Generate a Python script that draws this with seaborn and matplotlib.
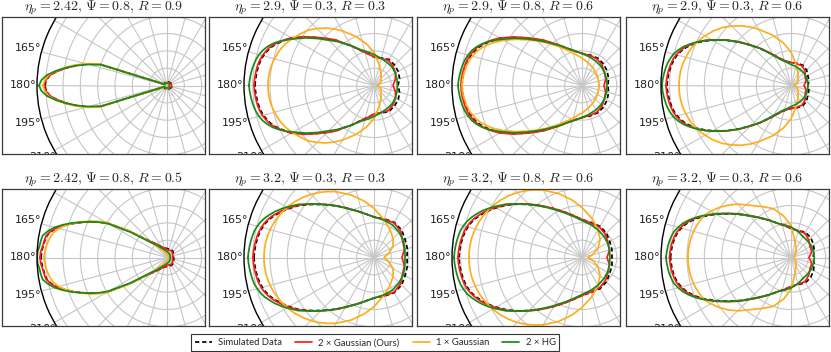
import numpy as np
import matplotlib
matplotlib.use("Agg")
import matplotlib.pyplot as plt
from matplotlib import font_manager
from matplotlib.lines import Line2D
from matplotlib.transforms import Bbox, TransformedBbox
import seaborn as sns

# ---------------------------------------------------------------
# data: radial value of each curve sampled on the upper half of the
# polar plot (deg, from the forward tip at 180 round to 0).
# The lower half is the mirror image.
# ---------------------------------------------------------------
THETA = [180, 177.5, 175, 172.5, 170, 167.5, 165, 162.5, 160, 157.5, 155, 152.5, 150,
         145, 140, 135, 130, 125, 120, 110, 100, 90, 75, 60, 45, 30, 15, 0]

TITLES = [
    r"$\eta_p = 2.42,\, \Psi = 0.8,\, R = 0.9$",
    r"$\eta_p = 2.9,\, \Psi = 0.3,\, R = 0.3$",
    r"$\eta_p = 2.9,\, \Psi = 0.8,\, R = 0.6$",
    r"$\eta_p = 2.9,\, \Psi = 0.3,\, R = 0.6$",
    r"$\eta_p = 2.42,\, \Psi = 0.8,\, R = 0.5$",
    r"$\eta_p = 3.2,\, \Psi = 0.3,\, R = 0.3$",
    r"$\eta_p = 3.2,\, \Psi = 0.8,\, R = 0.6$",
    r"$\eta_p = 3.2,\, \Psi = 0.3,\, R = 0.6$",
]

SIMULATED = [
    [122, 121, 117.5, 110.5, 102, 93, 82.5, 70.5, 10, 4, 3.5, 3.5, 3.5, 3.5, 3.5, 3.5, 3.5, 3.5, 3.5, 3.5, 3.5, 3.5, 3.5, 4, 4, 4.5, 5, 5],
    [119, 118.7, 118.2, 117.7, 117, 116, 114.6, 112.5, 110.2, 107, 103, 99, 95, 84.5, 74.5, 66, 59, 51, 46, 37, 32, 28.5, 28.5, 30, 29, 28, 26.5, 24],
    [120, 119.7, 119.2, 118.6, 117.8, 116.7, 115.2, 113, 110.5, 107, 103, 98.5, 94, 84, 74, 65.5, 58.5, 51.5, 46.5, 39, 34.5, 32, 31.5, 31.5, 30.5, 29, 27.5, 26],
    [124, 123.6, 123, 122.2, 121.2, 119.7, 117.8, 115, 111.5, 107, 102, 96.5, 90.5, 79, 67.5, 57, 48.5, 41, 35.5, 28, 24.5, 23, 23, 23.5, 22, 19.5, 18.5, 17],
    [126, 125.5, 124.5, 123.5, 122.5, 119, 114, 107, 99.5, 92, 84.5, 77, 68.5, 45.5, 29, 22, 18, 15, 13, 10.5, 9.5, 9, 8.5, 9, 8.5, 7.5, 7, 6.5],
    [120, 119.7, 119.2, 118.6, 117.9, 117, 115.6, 113.8, 111.5, 108.5, 105, 101.5, 98, 91, 82.5, 75, 68.5, 62.5, 57.5, 49.5, 44, 40.5, 40, 40.5, 39, 36, 34.5, 33],
    [123, 122.7, 122.2, 121.5, 120.7, 119.6, 118.2, 116.2, 113.5, 110.3, 107, 103.2, 99.3, 91.5, 83, 75, 68, 61.5, 56.5, 48, 42, 38, 36, 36, 34.5, 32, 31, 30],
    [120.5, 120, 119.5, 118.7, 117.6, 116, 113.5, 110.5, 106.5, 102, 97, 91.5, 86.5, 76, 67, 59, 52.5, 47, 43, 36, 32, 29, 28, 29, 28, 26, 24, 22],
]
GAUSS2 = [
    [123, 121.5, 117.5, 110.5, 102, 93, 82.5, 70.5, 10, 4, 3, 3, 3, 3, 3, 3, 3, 3, 3, 3, 3, 3, 3, 3.5, 3.5, 4, 4.5, 4.5],
    [120, 119.7, 119.2, 118.7, 118, 117, 115.6, 113.5, 111.2, 107.8, 103.7, 99.5, 95.5, 85, 75, 66.5, 59.5, 51.3, 46, 37, 32, 28.5, 28, 29, 27, 25, 22, 19],
    [121, 120.7, 120.2, 119.6, 118.8, 117.7, 116.2, 114, 111.5, 108, 104, 99.5, 95, 84.5, 74.5, 66, 59, 52, 47, 39, 34.5, 32, 31, 30.5, 28.5, 26, 24.5, 22],
    [125, 124.6, 124, 123.2, 122.2, 120.7, 118.8, 116, 112.5, 108, 103, 97.5, 91.5, 79.5, 68, 57.5, 49, 41.5, 35.5, 28, 24.5, 23, 22.5, 22.5, 20, 16.5, 15.5, 13],
    [127, 126.5, 125, 124, 123, 119.5, 114.5, 107.5, 100, 92, 84.5, 77, 68.5, 45.5, 29, 22, 18, 15, 13, 10.5, 9, 8, 7.5, 8, 7.5, 6.5, 6, 5.5],
    [121, 120.7, 120.2, 119.6, 118.9, 118, 116.6, 114.8, 112.5, 109.5, 106, 102.5, 98.8, 91.5, 83, 75.5, 68.8, 63, 57.5, 49.5, 44, 40.5, 39.5, 40, 37.5, 33, 31.5, 28],
    [124, 123.7, 123.2, 122.5, 121.7, 120.6, 119.2, 117.2, 114.5, 111.3, 107.8, 104, 100, 92, 83.5, 75.5, 68.5, 62, 56.5, 48, 42, 38, 35.5, 35, 33, 30, 28.5, 25],
    [121.5, 121, 120.5, 119.7, 118.6, 117, 114.5, 111.5, 107.5, 103, 98, 92.5, 87.5, 77, 68, 59.5, 53, 47.5, 43, 36, 32, 29, 27.5, 28, 25, 22, 21.5, 18],
]
GAUSS1 = [
    [124, 122.5, 119, 112, 103.5, 94.5, 84, 72, 12, 3, 2.5, 2.5, 2.5, 2.5, 2.5, 2.5, 2.5, 2.5, 2.5, 2.5, 2.5, 2.5, 2.5, 2, 2, 2, 2, 2],
    [106, 105.9, 105.7, 105.3, 104.8, 104, 103, 102, 101, 99.5, 98, 96, 94, 90, 86, 80.5, 75, 69, 63, 52, 42, 33, 21, 14, 10, 8, 6, 3],
    [120, 119.7, 119, 118, 117, 115.5, 113.5, 111, 108, 104, 100, 95, 90.5, 80.5, 71, 63, 56, 49.5, 44.5, 36.5, 31, 27.5, 23.5, 21, 19, 18, 17, 17],
    [112, 111.9, 111.7, 111.3, 110.7, 109.9, 108.8, 107.8, 106.7, 105.1, 103.5, 101.4, 99.3, 95, 90, 84, 78, 71.5, 65, 53.5, 43, 33.5, 21, 14, 10, 8, 6, 3],
    [123, 122.5, 121.5, 120, 118.5, 116, 112, 106.5, 100, 93, 86, 78.5, 70.5, 47, 28, 19, 14, 10, 8, 5, 4, 3, 2.5, 2, 2, 2, 2, 2],
    [110, 110, 109.8, 109.4, 109, 108.3, 107.5, 106.6, 105.6, 104.3, 103, 101.7, 100.3, 97, 93.3, 89.3, 85, 80.5, 76, 66.5, 57.4, 49.2, 39, 32, 27, 22, 15, 10],
    [113, 113, 112.8, 112.4, 112, 111.3, 110.5, 109.6, 108.6, 107.3, 106, 104.6, 103.2, 99.8, 96, 91.8, 87.3, 82.5, 77.8, 68, 58.5, 50, 40, 32, 25.5, 18.5, 11, 6],
    [103, 103, 102.8, 102.5, 102, 101.5, 100.8, 100, 99, 98, 97, 95, 92.5, 87.4, 81.5, 75.5, 68.5, 63, 59, 52, 42, 32, 16, 10, 7, 4.5, 3.5, 3],
]
HG2 = [
    [128, 125.7, 120.5, 112, 102.5, 92.2, 81.5, 69, 8, 3, 2.5, 2.5, 2.5, 2.5, 2.5, 2.5, 2.5, 2.5, 2.5, 2.5, 2.5, 2.5, 2.5, 2.5, 2.5, 2.5, 2.5, 2.5],
    [125, 124.5, 123.8, 123, 122, 120.8, 119.1, 116.7, 113.5, 109.5, 104.5, 99, 93.2, 83, 73, 64, 57.5, 51, 46, 38, 34, 31, 28, 26.5, 25.8, 24.6, 23.8, 23.3],
    [124, 123.5, 122.8, 122, 121, 119.8, 118, 115.7, 112.5, 108.5, 103.5, 98, 92.5, 82.5, 72.5, 64, 57, 51, 46.5, 39, 35, 32, 29.5, 28, 27, 26, 25.5, 25],
    [129, 128.5, 127.7, 126.7, 125.6, 123.8, 121.6, 118.2, 114, 108.8, 103.3, 97.2, 91, 79, 67.5, 56.6, 48.5, 40.5, 34.5, 27, 23.5, 21, 19.5, 18.5, 18, 17.5, 17, 17],
    [130, 129.5, 128, 127.3, 126.3, 122, 116.5, 109, 101, 92.5, 84.5, 76.5, 67.5, 44, 27, 20, 16.5, 13, 11, 8.5, 7, 6, 5, 4.5, 4, 3.5, 3.3, 3.3],
    [126, 125.6, 125, 124.3, 123.5, 122.6, 120.8, 118.8, 116, 112.5, 109, 104.9, 100.8, 92.6, 83.3, 75.4, 68.5, 62.5, 57, 49.5, 44, 40.5, 38.7, 37.4, 35.6, 33.9, 32, 31],
    [128, 127.6, 127, 126.3, 125.5, 124.4, 122.7, 120.5, 117.5, 114, 110.2, 106, 101.7, 93, 83.5, 75, 67.5, 61, 55.5, 47, 41, 37, 34, 32, 30.5, 29.5, 28.5, 28],
    [125, 124.4, 123.7, 122.8, 121.5, 119.8, 116.8, 113.5, 109, 104, 98.5, 92.5, 87.3, 76.5, 67.5, 59, 52.5, 47, 42.7, 36, 33, 30.5, 27, 24, 23.5, 23.4, 23.3, 23.3],
]

LABELS = ["Simulated Data", "2 × Gaussian (Ours)", "1 × Gaussian", "2 × HG"]
COLORS = ["black", "#ff1a1a", "#ffae1a", "#168c16"]
STYLES = [(0, (2.5, 1.6)), "-", "-", "-"]
SHOWN_THETA_LABELS = [165, 180, 195, 210]

# ---------------------------------------------------------------
# layout (pixels)
# ---------------------------------------------------------------
W, H = 831, 352
FRAME_X = [2, 209, 417, 626]
FRAME_TOP = [17, 189]
FRAME_W, FRAME_H = 203, 137
CENTER_DX = 165      # polar origin measured from frame left
RADIUS = 130         # pixel radius of the outer circle
R_MAX = 130

sns.set_theme(style="white")
plt.rcParams["font.family"] = ["DejaVu Sans"]
plt.rcParams["mathtext.fontset"] = "cm"

installed = {f.name for f in font_manager.fontManager.ttflist}
legend_font = next((f for f in ["Liberation Sans Narrow", "Lato"] if f in installed), "DejaVu Sans")

fig = plt.figure(figsize=(W / 100, H / 100), dpi=100)

th = np.deg2rad(np.array(THETA, dtype=float))
theta_full = np.concatenate([th, -th[::-1][1:]])

tick_deg = np.arange(0, 360, 15)
tick_lab = [f"{d}°" if d in SHOWN_THETA_LABELS else "" for d in tick_deg]

for i in range(8):
    row, col = divmod(i, 4)
    fx, fy = FRAME_X[col], FRAME_TOP[row]
    cx = fx + CENTER_DX
    cy = fy + FRAME_H / 2

    pax = fig.add_axes([(cx - RADIUS) / W, (H - cy - RADIUS) / H, 2 * RADIUS / W, 2 * RADIUS / H],
                       projection="polar")
    pax.patch.set_visible(False)

    for data, c, ls in zip([SIMULATED, GAUSS2, GAUSS1, HG2], COLORS, STYLES):
        r = np.array(data[i], dtype=float)
        r_full = np.concatenate([r, r[::-1][1:]])
        sns.lineplot(x=theta_full, y=r_full, ax=pax, sort=False, estimator=None,
                     color=c, linestyle=ls, linewidth=1.25)

    pax.set_rlim(0, R_MAX)
    pax.set_rgrids(np.arange(1, 8) * R_MAX / 7.5, labels=[])
    pax.set_thetagrids(tick_deg, labels=tick_lab)
    pax.tick_params(axis="x", labelsize=8, pad=3, length=0, colors="#222222")
    pax.grid(True, color="#c6c6c6", linewidth=0.8)
    pax.spines["polar"].set_color("black")
    pax.spines["polar"].set_linewidth(1.0)
    pax.set_xlabel("")
    pax.set_ylabel("")

    fax = fig.add_axes([fx / W, (H - fy - FRAME_H) / H, FRAME_W / W, FRAME_H / H])
    fax.set_facecolor("none")
    fax.set_xticks([])
    fax.set_yticks([])
    for sp in fax.spines.values():
        sp.set_color("#3a3a3a")
        sp.set_linewidth(0.9)
    fax.set_title(TITLES[i], fontsize=10, pad=2.5)

    pax._frame_box = TransformedBbox(Bbox.from_bounds(fx / W, (H - fy - FRAME_H) / H,
                                                      FRAME_W / W, FRAME_H / H), fig.transFigure)

# draw once so all ticks exist, then crop every polar artist to its frame
fig.canvas.draw()
for pax in fig.axes:
    box = getattr(pax, "_frame_box", None)
    if box is None:
        continue
    artists = list(pax.lines) + list(pax.spines.values())
    for t in pax.xaxis.get_major_ticks() + pax.yaxis.get_major_ticks():
        artists += [t.gridline, t.label1, t.label2, t.tick1line, t.tick2line]
    for a in artists:
        a.set_clip_on(True)
        a.set_clip_box(box)

handles = [Line2D([], [], color=c, linestyle=ls, linewidth=1.25) for c, ls in zip(COLORS, STYLES)]
leg = fig.legend(handles, LABELS, loc="lower left", bbox_to_anchor=(191 / W, 1 / H),
                 borderaxespad=0, ncol=4, frameon=True, fancybox=False, edgecolor="black",
                 prop={"family": legend_font, "size": 6.8},
                 handlelength=1.8, handletextpad=0.65, columnspacing=1.4, borderpad=0.4)
leg.get_frame().set_linewidth(0.8)

fig.savefig("out.png", dpi=100)
